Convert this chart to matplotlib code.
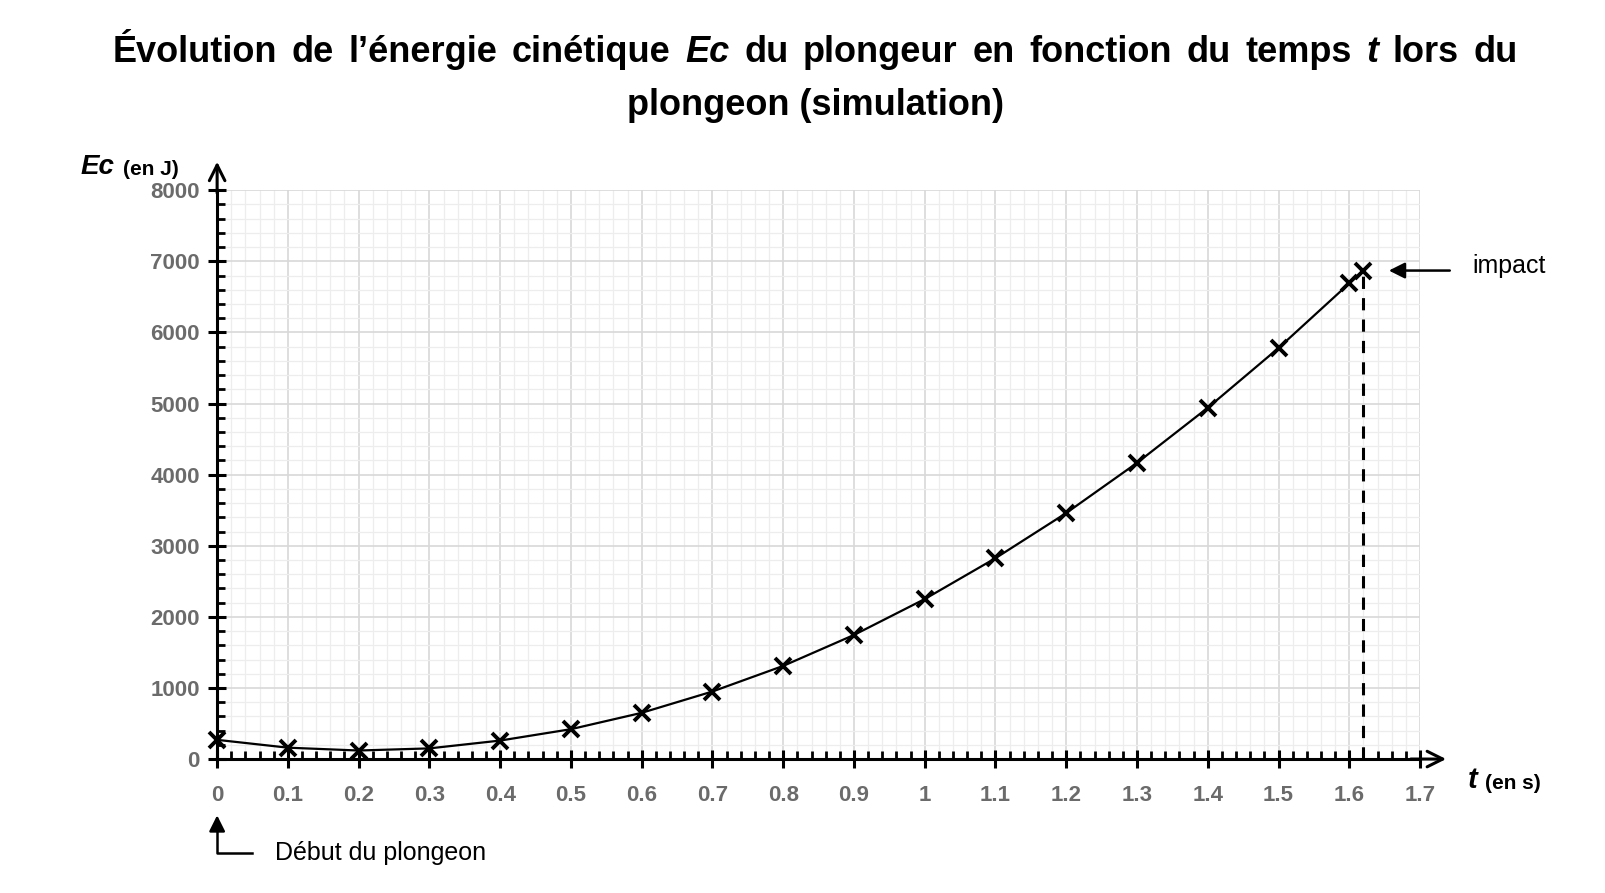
import matplotlib
matplotlib.use('Agg')
from matplotlib import pyplot as plt
from matplotlib.ticker import MultipleLocator
import numpy as np

plt.rcParams['font.family'] = ['Liberation Sans', 'DejaVu Sans']

# simulation values
t_values = [0.0, 0.1, 0.2, 0.3, 0.4, 0.5, 0.6, 0.7, 0.8, 0.9,
            1.0, 1.1, 1.2, 1.3, 1.4, 1.5, 1.6, 1.62]
ec_values = [270, 160, 120, 150, 260, 420, 650, 950, 1310, 1745,
             2250, 2825, 3460, 4165, 4940, 5780, 6690, 6870]
x_ticks = [0, 0.1, 0.2, 0.3, 0.4, 0.5, 0.6, 0.7, 0.8, 0.9,
           1.0, 1.1, 1.2, 1.3, 1.4, 1.5, 1.6, 1.7]
x_tick_labels = ['0', '0.1', '0.2', '0.3', '0.4', '0.5', '0.6', '0.7', '0.8',
                 '0.9', '1', '1.1', '1.2', '1.3', '1.4', '1.5', '1.6', '1.7']
y_ticks = [0, 1000, 2000, 3000, 4000, 5000, 6000, 7000, 8000]
impact_t = 1.62
impact_ec = 6870

title_words = [("Évolution", 'normal'), ("de", 'normal'), ("l’énergie", 'normal'),
               ("cinétique", 'normal'), ("Ec", 'italic'), ("du", 'normal'),
               ("plongeur", 'normal'), ("en", 'normal'), ("fonction", 'normal'),
               ("du", 'normal'), ("temps", 'normal'), ("t", 'italic'),
               ("lors", 'normal'), ("du", 'normal')]
title_line2 = "plongeon (simulation)"

fig = plt.figure(figsize=(16.06, 8.93), dpi=100)
ax = fig.add_axes([0.1352, 0.150, 0.749, 0.637])


def justified_line(fig, y, words, size, x0, x1):
    # spread the words so the line fills x0..x1 (figure fraction)
    renderer = fig.canvas.get_renderer()
    texts = []
    widths = []
    for s, style in words:
        txt = fig.text(0, y, s, fontsize=size, fontweight='bold', fontstyle=style,
                       ha='left', va='center')
        texts.append(txt)
        widths.append(txt.get_window_extent(renderer).width / fig.bbox.width)
    gap = (x1 - x0 - sum(widths)) / (len(words) - 1)
    x = x0
    for txt, w in zip(texts, widths):
        txt.set_position((x, y))
        x += w + gap


justified_line(fig, 0.941, title_words, 26, 0.070, 0.945)
fig.text(0.508, 0.882, title_line2, fontsize=26, fontweight='bold',
         ha='center', va='center')

ax.plot(t_values, ec_values, color='black', lw=1.6, zorder=4)
ax.plot(t_values, ec_values, 'x', color='black', ms=11, mew=2.8, zorder=5,
        clip_on=False)
ax.plot([impact_t, impact_t], [0, impact_ec], color='black', lw=2.2,
        ls=(0, (4, 3)), zorder=3)

ax.set_xlim(0, 1.7)
ax.set_ylim(0, 8000)
ax.set_xticks(x_ticks)
ax.set_xticklabels(x_tick_labels)
ax.set_yticks(y_ticks)
ax.xaxis.set_minor_locator(MultipleLocator(0.02))
ax.yaxis.set_minor_locator(MultipleLocator(200))

ax.grid(which='major', color='#d8d8d8', lw=1.2)
ax.grid(which='minor', color='#ededed', lw=0.9)
ax.set_axisbelow(True)

for side in ['top', 'right']:
    ax.spines[side].set_visible(False)
for side in ['left', 'bottom']:
    ax.spines[side].set_linewidth(2.2)
    ax.spines[side].set_zorder(6)

ax.tick_params(which='major', direction='inout', length=13, width=2.2,
               labelsize=16, labelcolor='#6b6b6b', pad=6)
ax.tick_params(which='minor', direction='in', length=6, width=2)
ax.tick_params(axis='x', which='major', pad=12)
for lab in ax.get_xticklabels() + ax.get_yticklabels():
    lab.set_fontweight('bold')

# axis arrows
ax.annotate('', xy=(0, 1.055), xytext=(0, 0.99), xycoords='axes fraction',
            arrowprops=dict(arrowstyle='->', lw=2.2, color='black',
                            mutation_scale=28))
ax.annotate('', xy=(1.024, 0), xytext=(0.99, 0), xycoords='axes fraction',
            arrowprops=dict(arrowstyle='->', lw=2.2, color='black',
                            mutation_scale=28))

# axis names
fig.text(0.050, 0.813, "Ec", fontsize=20, fontweight='bold', fontstyle='italic',
         ha='left', va='center')
fig.text(0.0765, 0.810, "(en J)", fontsize=15, fontweight='bold',
         ha='left', va='center')
fig.text(0.914, 0.126, "t", fontsize=21, fontweight='bold', fontstyle='italic',
         ha='left', va='center')
fig.text(0.9245, 0.123, "(en s)", fontsize=15, fontweight='bold',
         ha='left', va='center')

# impact marker
ax.annotate('', xy=(1.652, impact_ec), xytext=(1.746, impact_ec),
            xycoords='data', annotation_clip=False,
            arrowprops=dict(arrowstyle='-|>', lw=1.8, color='black',
                            mutation_scale=24))
fig.text(0.917, 0.702, "impact", fontsize=18, ha='left', va='center')

# start of dive marker
trans = ax.get_xaxis_transform()
ax.plot([0, 0, 0.049], [-0.12, -0.166, -0.166], color='black', lw=1.8,
        transform=trans, clip_on=False)
ax.annotate('', xy=(0, -0.094), xytext=(0, -0.125), xycoords=trans,
            annotation_clip=False,
            arrowprops=dict(arrowstyle='-|>', lw=1.8, color='black',
                            mutation_scale=24))
fig.text(0.171, 0.045, "Début du plongeon", fontsize=18, ha='left', va='center')

fig.savefig('out.png', dpi=100)
